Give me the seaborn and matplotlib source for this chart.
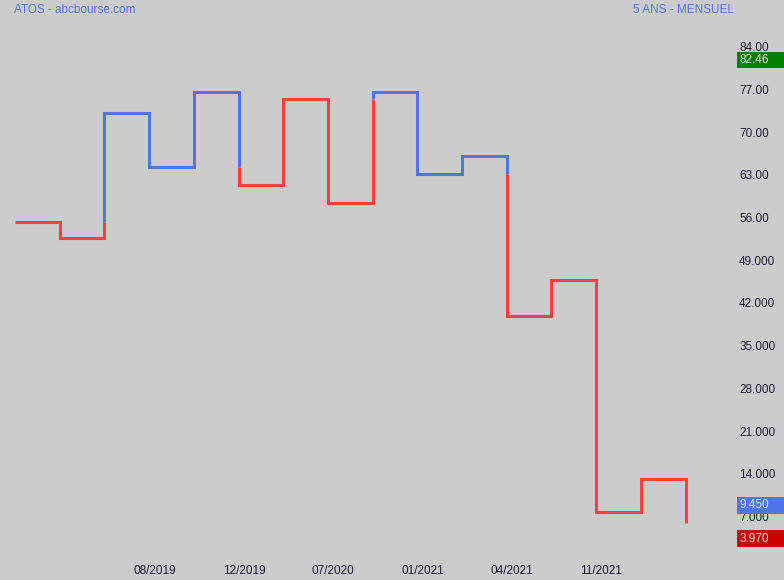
import matplotlib
matplotlib.use("Agg")
import matplotlib.pyplot as plt
import matplotlib.transforms as mtransforms
from matplotlib.patches import Rectangle
import seaborn as sns
import pandas as pd

# paliers du graphique kagi (un palier par pas de temps)
levels = [55.2, 52.6, 73.1, 64.3, 76.6, 61.3, 75.5, 58.3, 76.5, 63.1, 66.1,
          39.9, 45.8, 7.8, 13.1, 5.9]
date_labels = ['08/2019', '12/2019', '07/2020', '01/2021', '04/2021', '11/2021']
date_steps = [3, 5, 7, 9, 11, 13]
y_ticks = [7, 14, 21, 28, 35, 42, 49, 56, 63, 70, 77, 84]
y_tick_labels = ['7.000', '14.000', '21.000', '28.000', '35.000', '42.000',
                 '49.000', '56.00', '63.00', '70.00', '77.00', '84.00']
tag_values = [82.46, 9.450, 3.970]
tag_texts = ['82.46', '9.450', '3.970']
tag_colors = ['#008000', '#5076e6', '#cc0000']

UP = '#5076e6'
DOWN = '#ff4040'
BG = '#cccccc'
TXT = '#1c1c3a'


def kagi_runs(lv):
    """découpe le tracé en morceaux de même couleur (yang / yin)"""
    runs = []
    state = DOWN
    cur = [(0, lv[0]), (1, lv[0])]
    for i in range(len(lv) - 1):
        x = i + 1
        a, b = lv[i], lv[i + 1]
        switch = None
        if i >= 1:
            prev = lv[i - 1]
            if b > a and state == DOWN and b > prev:
                switch = (prev, UP)
            elif b < a and state == UP and b < prev:
                switch = (prev, DOWN)
        if switch:
            cur.append((x, switch[0]))
            runs.append((state, cur))
            state = switch[1]
            cur = [(x, switch[0])]
        cur.append((x, b))
        if i + 1 < len(lv) - 1:
            cur.append((x + 1, b))
    runs.append((state, cur))
    return runs


sns.set_theme(style='white', rc={'axes.facecolor': BG, 'figure.facecolor': BG})
plt.rcParams['font.family'] = ['Liberation Sans', 'DejaVu Sans']

W, H = 784, 580
fig = plt.figure(figsize=(W / 100, H / 100), dpi=100)
ax = fig.add_axes([0, 1 - 555 / H, 735 / W, (555 - 30) / H])

for color, pts in kagi_runs(levels):
    df = pd.DataFrame(pts, columns=['x', 'y'])
    sns.lineplot(data=df, x='x', y='y', sort=False, estimator=None, color=color,
                 lw=2.2, ax=ax, solid_joinstyle='miter', solid_capstyle='butt')

step = 44.7
ax.set_xlim(-15 / step, (735 - 15) / step)
ax.set_ylim(84 - (555 - 46.7) / 6.1, 84 + (46.7 - 30) / 6.1)
for s in ax.spines.values():
    s.set_visible(False)
ax.set_xlabel('')
ax.set_ylabel('')

ax.yaxis.tick_right()
ax.set_yticks(y_ticks)
ax.set_yticklabels(y_tick_labels)
ax.set_xticks([d + 0.12 for d in date_steps])
ax.set_xticklabels(date_labels)
ax.tick_params(axis='y', length=0, pad=3, labelsize=8.5, labelcolor=TXT)
ax.tick_params(axis='x', length=0, pad=7, labelsize=8.5, labelcolor=TXT)

# étiquettes de prix à droite
tr = mtransforms.blended_transform_factory(fig.transFigure, ax.transData)
for v, t, c in zip(tag_values, tag_texts, tag_colors):
    yc = v - 0.65
    ax.add_patch(Rectangle((737 / W, yc - 1.37), 1 - 737 / W, 2.74, transform=tr,
                           facecolor=c, edgecolor='none', clip_on=False, zorder=5))
    ax.text(739.5 / W, yc, t, transform=tr, color='#e6e6e6', fontsize=8.5,
            va='center', ha='left', zorder=6, clip_on=False)

fig.text(14 / W, 1 - 12.7 / H, 'ATOS - abcbourse.com', color='#5577dd',
         fontsize=8.5, va='baseline', ha='left')
fig.text(734 / W, 1 - 12.7 / H, '5 ANS - MENSUEL', color='#5577dd',
         fontsize=8.5, va='baseline', ha='right')

plt.savefig('out.png', dpi=100, facecolor=BG)
